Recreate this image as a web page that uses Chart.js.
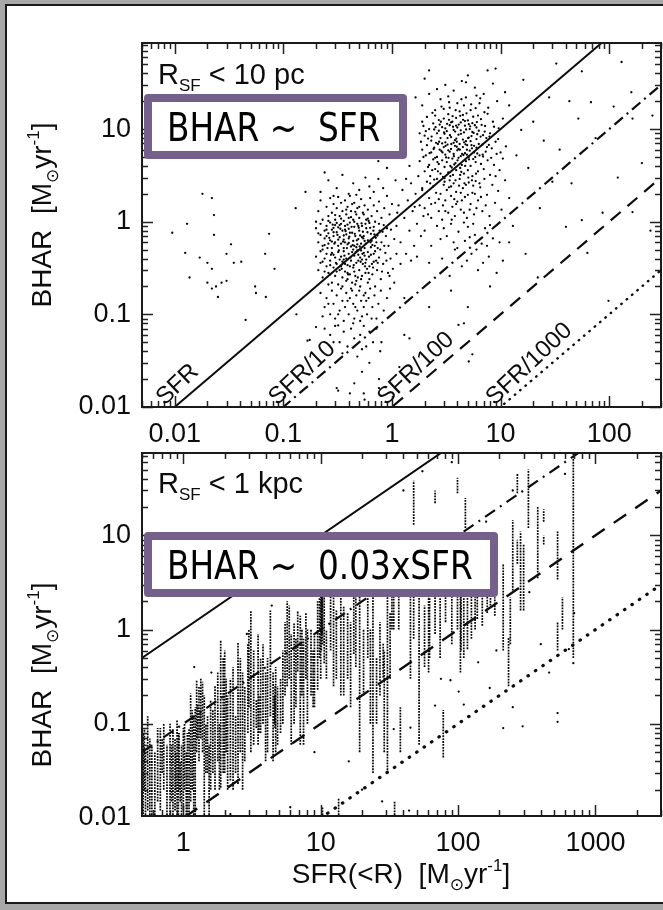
<!DOCTYPE html>
<html><head><meta charset="utf-8">
<script src="https://cdn.jsdelivr.net/npm/chart.js@4.4.1/dist/chart.umd.min.js"></script>
<style>
html,body{margin:0;padding:0;background:#a8a8a8;width:663px;height:910px;overflow:hidden;position:relative}
#frame{position:absolute;left:5px;top:4px;width:700px;height:896px;background:#fff;border:2px solid #1a1a1a}
canvas{position:absolute;left:0}
</style></head><body>
<div id="frame"></div>
<canvas id="c1" width="663" height="445" style="top:0px"></canvas>
<canvas id="c2" width="663" height="485" style="top:425px"></canvas>
<script>
// ---------------- data ----------------
const topXTicks = [0.01, 0.1, 1, 10, 100];
const topYTicks = [0.01, 0.1, 1, 10];
const botXTicks = [1, 10, 100, 1000];
const botYTicks = [0.01, 0.1, 1, 10];
const ratios = [1, 0.1, 0.01, 0.001];
const ratioLabels = ['SFR', 'SFR/10', 'SFR/100', 'SFR/1000'];
const topPanelLabel = ['R', 'SF', ' < 10 pc'];
const botPanelLabel = ['R', 'SF', ' < 1 kpc'];
const topBoxText = 'BHAR ~  SFR';
const botBoxText = 'BHAR ~  0.03xSFR';

// top panel (R_SF < 10 pc) scattered galaxies
const topSparse = [[0.0095,0.76],[0.013,0.95],[0.0125,0.46],[0.0137,0.25],[0.018,2.0],[0.022,1.8],[0.023,1.18],[0.023,0.72],[0.017,0.41],[0.020,0.36],[0.022,0.31],[0.020,0.22],[0.022,0.19],[0.025,0.154],[0.024,0.2],[0.027,0.22],[0.03,0.23],[0.03,0.45],[0.033,0.57],[0.035,0.36],[0.041,0.37],[0.045,0.087],[0.055,0.2],[0.056,0.17],[0.068,0.45],[0.074,0.74],[0.069,0.154],[0.083,0.31],[0.13,1.4],[0.132,0.1],[0.16,2.1],[0.167,0.052],
[32.6,51],[56,42],[43,20],[68,19.5],[130,53],[164,13],[110,17.5],[45,2.6],[87,1.25],[56,1.04],[164,1.27],[98.5,0.14],[200,4.3],[52,13],[160,25],[63,0.46],[40,0.88],[23,1.4],[30,2.7],[15.5,9.8],[2.2,43],[4.8,32],[7.6,43],[16.2,34],[1.65,22],[12,18],[14,5.2],[18,3.8],[20,12],[25,7.5],[13,0.9],[17,0.45],[22,0.25],[11,25],[28,22],[35,6],[75,8],[120,3],[250,14],[240,0.8],[9,45],[1.3,5.5],[1.1,8.5],[1.45,4],[1.25,12],[0.9,3.8],[0.75,4.5],[1.05,0.22],[0.8,0.05],[1.3,0.15],[2.2,0.12],[5,0.12],[0.62,0.03],[0.45,0.018],[0.32,0.015],[0.76,0.02],[0.55,0.014],[3.5,0.18],[12,0.6],[8,0.2],
[0.175,0.053],[0.2,0.073],[0.32,0.076],[0.53,0.024],[0.41,0.014],[0.31,0.016],[0.56,0.012],[0.76,0.016],[1.17,0.027],[1.3,0.06],[1.45,0.055],[5.1,0.031],[5.5,0.037],[4.1,0.077],[4.6,0.08]];

const topClusterLow = [[0.22,2.1],[0.26,2.8],[0.31,2.3],[0.35,3.2],[0.4,2.0],[0.44,2.6],[0.5,2.2],[0.57,3.0],[0.62,2.4],[0.68,2.1],[0.75,2.9],[0.29,1.9],[0.47,1.95],[0.83,2.3],[0.24,3.4],
[0.21,1.3],[0.22,1.7],[0.23,1.05],[0.25,1.45],[0.26,1.15],[0.27,1.8],[0.28,1.25],[0.29,1.55],[0.3,1.05],[0.31,1.4],[0.32,1.85],[0.33,1.15],[0.34,1.6],[0.35,1.3],[0.36,1.02],[0.37,1.7],[0.38,1.2],[0.39,1.45],[0.4,1.1],[0.41,1.9],[0.42,1.3],[0.44,1.05],[0.45,1.6],[0.47,1.2],[0.48,1.4],[0.5,1.1],[0.52,1.75],[0.54,1.25],[0.56,1.5],[0.58,1.05],[0.6,1.35],[0.63,1.8],[0.65,1.15],[0.68,1.5],[0.7,1.0],[0.73,1.3],[0.76,1.65],[0.8,1.1],[0.85,1.4],[0.9,1.9],[0.95,1.2],[1.0,1.55],[0.2,1.0],[0.43,1.55],[0.61,1.02],
[0.2,0.85],[0.21,0.6],[0.22,0.72],[0.22,0.95],[0.23,0.55],[0.24,0.8],[0.24,0.66],[0.25,0.9],[0.26,0.58],[0.26,0.75],[0.27,0.98],[0.27,0.63],[0.28,0.82],[0.28,0.52],[0.29,0.7],[0.3,0.92],[0.3,0.6],[0.31,0.77],[0.32,0.55],[0.32,0.87],[0.33,0.68],[0.34,0.95],[0.34,0.58],[0.35,0.8],[0.36,0.64],[0.36,0.52],[0.37,0.9],[0.38,0.73],[0.39,0.57],[0.4,0.84],[0.4,0.66],[0.41,0.98],[0.42,0.54],[0.43,0.76],[0.44,0.62],[0.45,0.88],[0.46,0.7],[0.47,0.53],[0.48,0.95],[0.49,0.65],[0.5,0.8],[0.52,0.58],[0.53,0.9],[0.55,0.7],[0.56,0.52],[0.58,0.85],[0.6,0.63],[0.62,0.97],[0.64,0.74],[0.66,0.56],[0.68,0.88],[0.71,0.67],[0.74,0.52],[0.77,0.8],[0.8,0.6],[0.84,0.92],[0.88,0.7],[0.93,0.55],[0.98,0.82],[1.05,0.65],[0.23,0.5],[0.31,0.97],[0.37,0.6],[0.45,0.55],[0.54,0.78],[0.65,0.62],[0.29,0.86],[0.39,0.93],[0.51,0.71],[0.25,0.7],
[0.2,0.42],[0.21,0.3],[0.22,0.36],[0.22,0.48],[0.23,0.25],[0.24,0.4],[0.25,0.33],[0.25,0.45],[0.26,0.28],[0.27,0.38],[0.28,0.22],[0.28,0.46],[0.29,0.32],[0.3,0.41],[0.3,0.26],[0.31,0.35],[0.32,0.47],[0.32,0.21],[0.33,0.3],[0.34,0.42],[0.35,0.25],[0.35,0.37],[0.36,0.48],[0.37,0.29],[0.38,0.4],[0.38,0.23],[0.39,0.34],[0.4,0.45],[0.41,0.27],[0.42,0.38],[0.43,0.22],[0.44,0.32],[0.45,0.43],[0.46,0.26],[0.47,0.36],[0.48,0.49],[0.5,0.3],[0.51,0.41],[0.52,0.24],[0.54,0.35],[0.55,0.46],[0.57,0.28],[0.58,0.39],[0.6,0.22],[0.62,0.33],[0.64,0.44],[0.66,0.27],[0.68,0.37],[0.7,0.48],[0.73,0.3],[0.76,0.41],[0.79,0.24],[0.83,0.35],[0.87,0.46],[0.92,0.28],[0.97,0.4],[1.02,0.31],[1.1,0.45],[0.26,0.21],[0.34,0.33],[0.43,0.47],[0.53,0.26],[0.29,0.44],[0.39,0.28],[0.49,0.38],[0.59,0.31],[0.24,0.29],[0.36,0.39],[0.46,0.21],[0.56,0.43],
[0.22,0.17],[0.24,0.12],[0.25,0.15],[0.27,0.1],[0.28,0.18],[0.29,0.13],[0.3,0.09],[0.31,0.16],[0.33,0.11],[0.34,0.19],[0.35,0.14],[0.36,0.085],[0.37,0.12],[0.38,0.17],[0.4,0.1],[0.41,0.15],[0.42,0.19],[0.44,0.13],[0.45,0.09],[0.47,0.16],[0.48,0.11],[0.5,0.18],[0.52,0.14],[0.53,0.095],[0.55,0.12],[0.57,0.17],[0.59,0.1],[0.61,0.15],[0.63,0.19],[0.66,0.12],[0.69,0.16],[0.72,0.09],[0.75,0.13],[0.79,0.18],[0.84,0.11],[0.9,0.15],[0.96,0.19],[0.26,0.13],[0.32,0.1],[0.39,0.14],[0.46,0.12],[0.51,0.085],[0.58,0.14],[0.65,0.09],[0.23,0.095],
[0.24,0.07],[0.27,0.06],[0.3,0.075],[0.33,0.05],[0.36,0.065],[0.39,0.045],[0.42,0.07],[0.45,0.055],[0.48,0.035],[0.51,0.06],[0.55,0.075],[0.58,0.045],[0.62,0.065],[0.67,0.05],[0.72,0.07],[0.78,0.04],[0.35,0.038],[0.44,0.08],[0.53,0.042],[0.29,0.05],
[1.1,0.9],[1.15,1.5],[1.2,0.6],[1.25,2.2],[1.3,1.1],[1.35,0.45],[1.4,1.7],[1.45,0.8],[1.5,2.6],[1.55,1.3],[1.6,0.55],[1.65,2.0],[1.7,0.95],[1.75,3.1],[1.8,1.5],[1.85,0.7],[1.9,2.3],[1.95,1.15],[1.08,2.8],[1.2,0.35],[1.5,0.38],[1.7,0.42],[1.12,1.25],[1.35,2.9],[1.62,1.45],
[0.255,0.52],[0.265,0.67],[0.275,0.44],[0.285,0.93],[0.295,0.58],[0.305,0.36],[0.315,0.72],[0.325,0.49],[0.335,0.84],[0.345,0.31],[0.355,0.61],[0.365,0.43],[0.375,0.79],[0.385,0.52],[0.395,0.27],[0.405,0.69],[0.415,0.41],[0.425,0.88],[0.435,0.56],[0.445,0.34],[0.455,0.74],[0.465,0.47],[0.475,0.63],[0.485,0.25],[0.495,0.86],[0.505,0.54],[0.515,0.37],[0.525,0.96],[0.535,0.45],[0.545,0.66],[0.565,0.33],[0.575,0.58],[0.595,0.77],[0.615,0.42],[0.635,0.6],[0.655,0.35],[0.675,0.8],[0.695,0.55],[0.715,0.38],[0.735,0.71],[0.26,1.02],[0.3,1.18],[0.34,1.08],[0.38,1.35],[0.42,1.12],[0.46,1.28],[0.5,1.45],[0.55,1.2],[0.6,1.08],[0.27,0.34],[0.31,0.29],[0.35,0.2],[0.39,0.24],[0.43,0.18],[0.47,0.23],[0.51,0.2],[0.55,0.16],[0.62,0.24],[0.7,0.2],[0.24,0.56],[0.28,0.61],[0.32,0.64],[0.36,0.71],[0.4,0.59],[0.44,0.5],[0.48,0.57],[0.52,0.49],[0.56,0.62],[0.6,0.47],[0.64,0.53],[0.68,0.45],[0.72,0.6],[0.78,0.5],[0.85,0.55],[0.23,0.37],[0.27,0.27],[0.33,0.39],[0.37,0.35],[0.41,0.33],[0.45,0.29],[0.49,0.44],[0.53,0.39],[0.57,0.36],[0.61,0.28],[0.67,0.32],[0.74,0.36],[0.81,0.29],[0.89,0.38],[0.95,0.26],[0.21,0.75],[0.25,0.82],[0.29,0.77],[0.33,0.92],[0.37,0.82],[0.41,0.76],[0.45,1.0],[0.49,0.9],[0.53,0.68],[0.57,0.95],[0.63,0.86],[0.69,0.73],[0.76,0.95],[0.82,0.78],[0.9,0.85]];

const topClusterHigh = [[1.9,18],[2.2,24],[2.5,16],[2.8,21],[3.1,30],[3.4,17],[3.7,26],[4.0,19],[4.4,33],[4.8,22],[5.3,16],[5.8,28],[6.4,19],[7.0,24],[7.7,17],[8.5,31],[9.3,20],[2.0,35],[2.6,27],[3.3,22.5],[4.2,15.5],[5.0,38],[6.0,23],[3.0,16.5],[4.6,18],
[1.8,9],[1.9,12],[2.0,8.5],[2.1,13.5],[2.2,10],[2.3,7.5],[2.4,11.5],[2.5,14],[2.6,9],[2.7,12.5],[2.8,8],[2.9,10.5],[3.0,13],[3.1,7.2],[3.2,9.5],[3.3,14.5],[3.4,11],[3.5,8.2],[3.6,12],[3.7,9.8],[3.8,7.6],[3.9,13.2],[4.0,10.4],[4.1,8.7],[4.3,11.8],[4.5,14.2],[4.6,9.2],[4.8,7.4],[5.0,12.4],[5.2,10],[5.4,8.4],[5.6,13.6],[5.8,11],[6.0,7.8],[6.3,9.6],[6.6,12.8],[6.9,8.6],[7.2,10.8],[7.6,14.6],[8.0,9],[8.5,12],[9.0,7.3],[9.6,10.2],[10.5,13],[2.15,7.9],[2.45,9.9],[2.75,11.2],[3.05,8.9],[3.35,12.6],[3.65,10.6],[3.95,7.3],[4.25,13.9],[4.7,10.9],[5.1,8.1],[5.5,11.6],[6.2,14.0],[7.4,8.0],[1.95,10.8],[2.55,7.1],[3.25,8.0],
[1.8,4.5],[1.9,6],[2.0,3.5],[2.05,5.2],[2.1,6.7],[2.2,4.1],[2.25,3.1],[2.3,5.6],[2.4,4.7],[2.45,6.3],[2.5,3.7],[2.6,5.0],[2.65,6.9],[2.7,4.2],[2.8,3.3],[2.85,5.8],[2.9,4.6],[3.0,6.4],[3.05,3.9],[3.1,5.3],[3.2,4.4],[3.25,6.8],[3.3,3.4],[3.4,5.7],[3.45,4.0],[3.5,6.1],[3.6,4.8],[3.65,3.2],[3.7,5.4],[3.8,6.6],[3.85,4.3],[3.9,3.6],[4.0,5.9],[4.1,4.9],[4.2,6.9],[4.25,3.8],[4.3,5.1],[4.4,4.1],[4.5,6.4],[4.6,3.3],[4.7,5.5],[4.8,4.5],[4.9,6.0],[5.0,3.6],[5.1,5.0],[5.3,4.0],[5.4,6.7],[5.5,3.1],[5.7,5.6],[5.9,4.4],[6.0,6.3],[6.2,3.5],[6.4,5.2],[6.6,4.2],[6.8,6.8],[7.0,3.7],[7.3,5.7],[7.6,4.6],[8.0,3.2],[8.3,6.2],[8.7,4.1],[9.2,5.4],[9.8,3.6],[10.5,4.8],[11.2,6.5],[2.35,3.6],[2.75,6.0],[3.15,4.95],[3.55,3.85],[3.95,6.45],[4.35,3.45],[4.75,6.85],[5.2,5.85],[5.6,4.75],[6.1,5.45],[6.9,5.05],[7.8,6.75],[2.95,3.05],[3.75,4.15],[4.55,5.25],
[1.9,2.2],[2.0,1.4],[2.1,2.7],[2.2,1.8],[2.3,1.1],[2.4,2.4],[2.5,1.6],[2.6,2.9],[2.7,1.3],[2.8,2.0],[2.9,1.05],[3.0,2.5],[3.1,1.7],[3.2,2.2],[3.3,1.25],[3.4,2.8],[3.5,1.9],[3.6,1.45],[3.7,2.6],[3.8,1.15],[3.9,2.1],[4.0,1.65],[4.2,2.9],[4.3,1.35],[4.5,2.3],[4.7,1.85],[4.9,1.1],[5.1,2.65],[5.3,1.55],[5.5,2.05],[5.7,1.2],[5.9,2.75],[6.2,1.7],[6.5,2.35],[6.8,1.3],[7.1,2.9],[7.5,1.95],[7.9,1.15],[8.4,2.5],[8.9,1.6],[9.5,2.15],[10.2,1.35],[11.0,2.8],[12.0,1.8],[2.15,1.2],[2.55,2.05],[2.95,1.5],[3.35,2.35],[3.75,1.75],[4.15,2.45],[4.6,1.25],[5.0,1.95],[5.6,2.45],[6.0,1.4],[6.6,1.85],[7.3,1.5],[2.45,2.85],[3.05,2.95],[3.55,1.05],[4.4,1.7],
[2.0,0.8],[2.3,0.55],[2.6,0.9],[2.9,0.4],[3.2,0.7],[3.5,0.95],[3.8,0.5],[4.1,0.78],[4.4,0.33],[4.7,0.62],[5.0,0.88],[5.4,0.45],[5.8,0.72],[6.2,0.3],[6.7,0.58],[7.2,0.85],[7.8,0.42],[8.5,0.66],[9.2,0.28],[2.2,0.36],[2.8,0.65],[3.4,0.26],[4.0,0.52],[4.6,0.98],[5.2,0.68],[6.0,0.5],[6.9,0.36],[8.0,0.92],[9.8,0.6],[10.5,0.38],[3.0,0.85],[3.7,0.6],[4.9,0.38],[5.6,0.95],[7.5,0.55],
[2.22,5.5],[2.32,8.3],[2.42,6.1],[2.52,10.5],[2.62,4.4],[2.72,7.3],[2.82,12],[2.92,5.6],[3.02,9.2],[3.12,6.6],[3.22,11.4],[3.32,4.9],[3.42,8.6],[3.52,6.9],[3.62,13.8],[3.72,5.1],[3.82,9.4],[3.92,7.9],[4.02,4.6],[4.12,11.2],[4.22,6.0],[4.32,8.9],[4.42,5.4],[4.52,12.6],[4.62,7.2],[4.72,4.0],[4.82,9.9],[4.92,6.7],[5.02,8.0],[5.12,4.7],[5.25,10.7],[5.45,6.2],[5.65,9.1],[5.85,5.0],[6.05,11.9],[6.3,6.9],[6.55,8.3],[6.85,5.3],[7.15,9.4],[7.5,6.4],[2.25,2.6],[2.65,3.5],[3.05,2.7],[3.45,3.1],[3.85,2.8],[4.25,3.2],[4.65,2.6],[5.05,3.0],[5.45,2.8],[5.95,3.3],[2.36,15],[2.86,17.5],[3.36,19.5],[3.86,16],[4.36,21],[4.86,14.8],[5.36,18.5],[5.9,16.8],[6.5,21.5],[7.1,15.2],[2.5,4.9],[2.9,7.0],[3.3,5.9],[3.7,7.1],[4.1,6.1],[4.5,7.7],[4.9,5.3],[5.3,7.4],[5.7,6.6],[6.1,8.8],[2.7,9.6],[3.1,10.2],[3.5,11.8],[3.9,10.9],[4.3,9.7],[4.7,12.2],[5.1,11.3],[5.5,9.3],[6.0,10.4],[6.7,11.1],[2.3,1.55],[2.7,1.75],[3.1,1.3],[3.5,2.4],[3.9,1.55],[4.3,2.05],[4.8,2.5],[5.2,1.35],[5.8,2.0],[6.4,2.6],[1.85,7.3],[1.95,5.0],[2.05,9.5],[2.15,3.9],[7.9,8.3],[8.7,10.6],[9.5,7.8],[10,5.6],[8.2,4.9],[9,3.1]];

// bottom panel (R_SF < 1 kpc): vertical streaks of samples (x, lowest y, highest y)
const botStreakX  = [0.51,0.53,0.55,0.59,0.65,0.72,0.76,0.84,0.87,0.9,0.93,0.97,1.0,1.07,1.13,1.19,1.25,1.3,1.34,1.38,1.5,1.58,1.64,1.87,1.95,2.1,2.2,2.5,2.7,3.1,3.25,3.5,3.65,3.97,4.3,4.5,4.7,4.85,5.1,5.7,6.1,6.4,6.8,7.1,7.5,8.0,8.5,9.0,9.5,10.0,10.3,10.3,10.6,11.8,12.4,13.5,14,14.7,15.7,17.4,19.2,22,23,24,27,28.5,30.6,33,34,34.5,37,38,47.5,47.5,52,61,62,68,68,78,81,99,99,104,110,113,117,133,138,163,172,213,233,250,270,270,285,300,325,380,420,420,530,530,575,690,
  0.5,0.52,0.57,0.62,0.68,0.7,0.8,0.82,0.88,0.92,0.95,1.02,1.05,1.1,1.16,1.22,1.27,1.33,1.42,1.46,1.54,1.7,1.78,1.83,2.0,2.05,2.3,2.4,2.6,2.8,2.95,3.0,3.4,3.55,3.8,4.1,4.6,4.65,5.3,5.5,5.9,6.6,7.3,7.8,8.8,9.8,10.1,10.2,11,13,16.5,18,20.5,25.5,29,32,45,57,74,90,105,125,150,185,240];
const botStreakLo = [0.011,0.01,0.012,0.01,0.015,0.02,0.01,0.01,0.012,0.01,0.02,0.01,0.012,0.01,0.015,0.01,0.05,0.04,0.07,0.05,0.03,0.02,0.03,0.021,0.03,0.02,0.025,0.023,0.02,0.05,0.06,0.06,0.08,0.04,0.12,0.04,0.05,0.06,0.08,0.25,0.06,0.1,0.36,0.06,0.06,0.1,0.2,0.15,0.23,0.3,0.7,0.01,0.44,0.6,0.25,0.01,0.2,0.2,0.3,0.55,0.05,0.5,0.1,0.03,0.2,0.31,0.03,1.0,1.0,0.01,1.0,0.05,0.8,13,0.06,0.35,0.5,0.9,22,0.044,1.2,1.0,28,0.35,0.5,12,0.62,1.0,1.3,1.5,1.8,0.6,0.25,2.6,28,5,1.6,1.6,12,3.5,14,8,3.4,0.6,1.0,0.5,
  0.01,0.02,0.01,0.01,0.012,0.03,0.01,0.015,0.02,0.01,0.015,0.02,0.01,0.01,0.02,0.01,0.07,0.08,0.01,0.03,0.01,0.02,0.04,0.02,0.03,0.05,0.02,0.03,0.05,0.04,0.08,0.15,0.09,0.08,0.1,0.05,0.1,0.09,0.1,0.2,0.3,0.15,0.2,0.3,0.15,0.5,0.6,0.9,0.3,0.3,0.15,0.4,0.2,0.1,0.05,0.3,0.3,0.4,0.5,0.7,0.6,0.8,1.1,1.4,0.7];
const botStreakHi = [0.08,0.05,0.12,0.06,0.09,0.1,0.06,0.09,0.07,0.11,0.08,0.06,0.09,0.08,0.21,0.12,0.29,0.25,0.3,0.28,0.12,0.18,0.14,0.77,0.5,0.2,0.3,0.72,0.35,1.6,0.6,0.9,0.5,0.35,1.6,0.35,0.4,0.25,0.3,2.0,0.9,1.2,1.6,1.4,0.8,1.0,1.0,0.9,2.0,3,3,0.013,3,3,3,0.016,3,1.8,1.5,3,3,3,1.0,3,1.2,0.72,3,3,3,0.015,3,0.15,3,38,3,3,3,3,30,0.14,3,3,41,3,3,25,3,3,3,3,3,5,0.83,14.5,46,9,11,8,50,20,19,10,11,1.2,2.2,80,
  0.04,0.09,0.07,0.05,0.09,0.07,0.1,0.06,0.05,0.08,0.04,0.1,0.05,0.09,0.14,0.15,0.16,0.14,0.2,0.1,0.06,0.25,0.35,0.1,0.6,0.3,0.4,0.12,0.5,0.25,0.7,1.0,0.18,0.2,0.7,0.5,0.2,0.25,0.6,1.2,1.8,0.8,1.0,1.5,0.6,3,3,3,1.0,1.6,1.2,3,1.0,0.5,0.6,1.5,3,1.8,3,3,3,3,3,2.2,2.2];
const botPoints = [[213,0.09],[295,0.094],[530,0.13],[530,0.105],[170,0.24],[250,0.15],[690,0.44],[34,0.088],[45,0.091],[68,0.156],[88,0.29],[101,0.22],[110,0.16],[75,0.3],[140,0.45],[190,0.6],[400,0.7],[460,0.35],[640,0.62],[700,1.5],[330,2.5],[250,30],[160,14],[40,30],[55,48],[90,60],[600,45],[20,0.02],[28,0.015],[2.2,0.011],[6,0.013],[44,0.012],[16,0.04],[9,0.05],[1.6,0.35],[2.9,0.9],[4.4,1.8],[1.2,0.4]];

// ---------------- axis ranges ----------------
const TOP_X = [0.005, 300], TOP_Y = [0.01, 85];
const BOT_X = [0.5, 3000], BOT_Y = [0.0105, 75];

// ---------------- helpers ----------------
const FAM = "'Liberation Sans','DejaVu Sans',Arial,sans-serif";
const INK = '#0d0d0d';
function fontFor(k, base){ return (k ? Math.round(base*0.6) : base) + 'px ' + FAM; }
function richWidth(ctx, parts, base){ let w=0; for(const [t,k] of parts){ ctx.font=fontFor(k,base); w+=ctx.measureText(t).width; } return w; }
function drawRich(ctx, parts, x, y, base, align){
  let cx = align==='center' ? x - richWidth(ctx,parts,base)/2 : x;
  for (const [t,k] of parts){
    ctx.font = fontFor(k,base);
    const dy = k===1 ? base*0.24 : (k===2 ? -base*0.42 : 0);
    ctx.fillText(t, cx, y+dy);
    cx += ctx.measureText(t).width;
  }
}
const unitParts = [['[M',0],['\u2299',1],['yr',0],['-1',2],[']',0]];

function drawFrameTicks(chart){
  const {ctx, chartArea:a} = chart; const xs = chart.scales.x, ys = chart.scales.y;
  ctx.save(); ctx.strokeStyle='#222'; ctx.lineWidth=1.5; ctx.beginPath();
  for (let d=Math.floor(Math.log10(xs.min)); d<=Math.ceil(Math.log10(xs.max)); d++){
    for (let m=1;m<=9;m++){ const v=m*Math.pow(10,d); if(v<xs.min*0.999||v>xs.max*1.001) continue;
      const p=Math.round(xs.getPixelForValue(v))+0.5; const L=m===1?11:6;
      ctx.moveTo(p,a.bottom); ctx.lineTo(p,a.bottom-L); ctx.moveTo(p,a.top); ctx.lineTo(p,a.top+L); }
  }
  for (let d=Math.floor(Math.log10(ys.min)); d<=Math.ceil(Math.log10(ys.max)); d++){
    for (let m=1;m<=9;m++){ const v=m*Math.pow(10,d); if(v<ys.min*0.999||v>ys.max*1.001) continue;
      const p=Math.round(ys.getPixelForValue(v))+0.5; const L=m===1?11:6;
      ctx.moveTo(a.left,p); ctx.lineTo(a.left+L,p); ctx.moveTo(a.right,p); ctx.lineTo(a.right-L,p); }
  }
  ctx.stroke();
  ctx.lineWidth=2; ctx.strokeStyle='#1a1a1a'; ctx.strokeRect(a.left,a.top,a.right-a.left,a.bottom-a.top);
  ctx.restore();
}
function drawBox(ctx, x, y, w, h, text){
  ctx.save();
  ctx.fillStyle='#75608b';
  ctx.beginPath(); ctx.roundRect(x,y,w,h,4); ctx.fill();
  ctx.fillStyle='#fff'; ctx.fillRect(x+8,y+8,w-16,h-16);
  ctx.fillStyle='#000'; ctx.font="39px 'DejaVu Sans',Verdana,sans-serif"; ctx.textBaseline='alphabetic';
  ctx.translate(x+23, y+47); ctx.scale(0.84,1); ctx.fillText(text,0,0);
  ctx.restore();
}

function refLines(xr, dashes, widths){
  return ratios.map((r,i)=>({
    data:[{x:xr[0], y:xr[0]*r},{x:xr[1], y:xr[1]*r}],
    showLine:true, pointRadius:0, borderColor:INK, borderWidth:widths[i],
    borderDash:dashes[i], borderCapStyle: i===3 ? 'round' : 'butt', fill:false
  }));
}
function axes(xr, yr, xt, yt, xH){
  const tickFont = {family:FAM, size:27};
  return {
    x:{type:'logarithmic', min:xr[0], max:xr[1],
       afterBuildTicks:s=>{ s.ticks = xt.map(v=>({value:v})); },
       afterFit:s=>{ s.height = xH; },
       grid:{display:false, drawTicks:false}, border:{display:false},
       ticks:{font:tickFont, color:INK, padding:11, autoSkip:false, maxRotation:0, callback:v=>String(v)}},
    y:{type:'logarithmic', min:yr[0], max:yr[1],
       afterBuildTicks:s=>{ s.ticks = yt.map(v=>({value:v})); },
       afterFit:s=>{ s.width = 142; },
       grid:{display:false, drawTicks:false}, border:{display:false},
       ticks:{font:tickFont, color:INK, padding:11, autoSkip:false, callback:v=>String(v)}}
  };
}
const pts = arr => arr.map(p=>({x:p[0], y:p[1]}));
const dotStyle = {showLine:false, pointRadius:1.15, pointBackgroundColor:'#000', pointBorderWidth:0, pointHoverRadius:0};

// ---------------- top chart ----------------
const topPlugin = {
  id:'topDeco',
  afterDatasetsDraw(chart){
    const ctx=chart.ctx, xs=chart.scales.x, ys=chart.scales.y, a=chart.chartArea;
    drawFrameTicks(chart);
    ctx.save(); ctx.fillStyle=INK; ctx.font='24px '+FAM; ctx.textBaseline='alphabetic'; ctx.textAlign='left';
    ratios.forEach((r,i)=>{
      const x0 = TOP_Y[0]/r;
      const p1x=xs.getPixelForValue(x0), p1y=ys.getPixelForValue(TOP_Y[0]);
      const p2x=xs.getPixelForValue(x0*10), p2y=ys.getPixelForValue(TOP_Y[0]*10);
      const ang=Math.atan2(p2y-p1y, p2x-p1x) - 0.05;
      ctx.save(); ctx.translate(p1x-(i===0?10:6), a.bottom-1); ctx.rotate(ang); ctx.fillText(ratioLabels[i],0,0); ctx.restore();
    });
    ctx.restore();
  },
  afterDraw(chart){
    const ctx=chart.ctx;
    ctx.save(); ctx.fillStyle=INK; ctx.textBaseline='alphabetic';
    drawRich(ctx, [[topPanelLabel[0],0],[topPanelLabel[1],1],[topPanelLabel[2],0]], 158, 84, 29, 'left');
    ctx.save(); ctx.translate(51, 215); ctx.rotate(-Math.PI/2);
    drawRich(ctx, [['BHAR  ',0]].concat(unitParts), 0, 0, 28, 'center'); ctx.restore();
    ctx.restore();
    drawBox(ctx, 144, 94, 263, 65, topBoxText);
  }
};
new Chart(document.getElementById('c1'), {
  type:'scatter',
  data:{datasets:[
    ...refLines(TOP_X, [[], [11,5,2,5], [13,9], [0.5,6.5]], [2, 2.2, 2.2, 2.4]),
    Object.assign({data:pts(topClusterLow)}, dotStyle),
    Object.assign({data:pts(topClusterHigh)}, dotStyle),
    Object.assign({data:pts(topSparse)}, dotStyle)
  ]},
  options:{responsive:false, animation:false, devicePixelRatio:1,
    layout:{padding:{top:43, right:2, left:0, bottom:0}},
    plugins:{legend:{display:false}, tooltip:{enabled:false}},
    scales:axes(TOP_X, TOP_Y, topXTicks, topYTicks, 38)},
  plugins:[topPlugin]
});

// ---------------- bottom chart (canvas starts at y=425) ----------------
const streakSets = botStreakX.map((x,i)=>({
  data:[{x:x, y:botStreakLo[i]},{x:x, y:botStreakHi[i]}],
  showLine:true, pointRadius:0, borderColor:'#000', borderWidth:1.7, borderDash:[1.8,1.1], fill:false
}));
const botPlugin = {
  id:'botDeco',
  afterDatasetsDraw(chart){ drawFrameTicks(chart); },
  afterDraw(chart){
    const ctx=chart.ctx;
    ctx.save(); ctx.fillStyle=INK; ctx.textBaseline='alphabetic';
    drawRich(ctx, [[botPanelLabel[0],0],[botPanelLabel[1],1],[botPanelLabel[2],0]], 158, 68, 29, 'left');
    ctx.save(); ctx.translate(51, 250); ctx.rotate(-Math.PI/2);
    drawRich(ctx, [['BHAR  ',0]].concat(unitParts), 0, 0, 28, 'center'); ctx.restore();
    drawRich(ctx, [['SFR(<R)  ',0]].concat(unitParts), 401, 458, 28, 'center');
    ctx.restore();
    drawBox(ctx, 144, 107, 354, 65, botBoxText);
  }
};
new Chart(document.getElementById('c2'), {
  type:'scatter',
  data:{datasets:[
    ...refLines(BOT_X, [[], [12,6,2,6], [15,11], [0.5,8.5]], [2, 2.2, 2.4, 3.2]),
    ...streakSets,
    Object.assign({data:pts(botPoints)}, dotStyle)
  ]},
  options:{responsive:false, animation:false, devicePixelRatio:1,
    layout:{padding:{top:28, right:2, left:0, bottom:0}},
    plugins:{legend:{display:false}, tooltip:{enabled:false}},
    scales:axes(BOT_X, BOT_Y, botXTicks, botYTicks, 94)},
  plugins:[botPlugin]
});
</script>
</body></html>
